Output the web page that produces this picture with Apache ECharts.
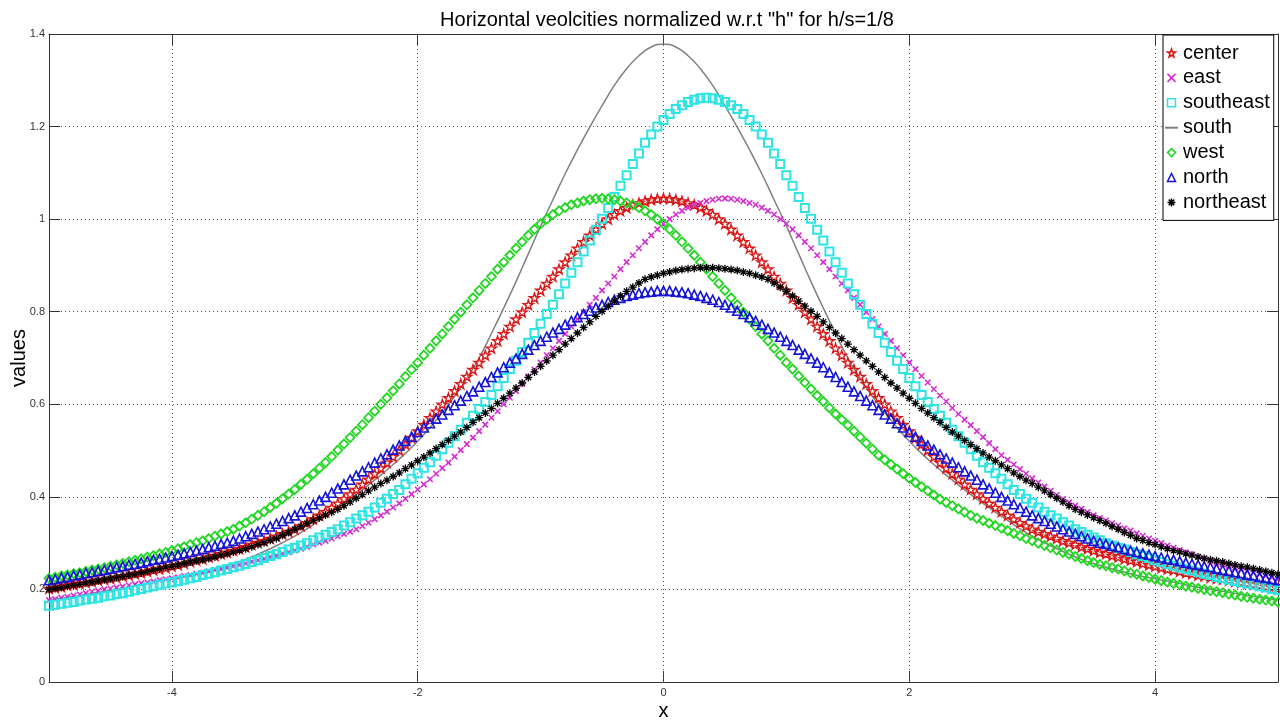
<!DOCTYPE html>
<html><head><meta charset="utf-8">
<script src="https://cdn.jsdelivr.net/npm/echarts@6/dist/echarts.min.js"></script>
<style>html,body{margin:0;padding:0;background:#fff}#c{width:1280px;height:721px}</style>
</head><body><div id="c"></div>
<script>
// ---------- data ----------
const titleText = 'Horizontal veolcities normalized w.r.t "h" for h/s=1/8';
const seriesNames = ['center', 'east', 'southeast', 'south', 'west', 'north', 'northeast'];
const xTickValues = [-4, -2, 0, 2, 4];
const X_MIN = -5;
const markerStep = 0.05;   // sample spacing of marker series (x from -5 to 5)
const lineStep = 0.1;      // sample spacing of the "south" line

const center = [
0.202,0.204,0.206,0.209,0.211,0.213,0.215,0.217,0.220,0.222,
0.224,0.226,0.229,0.231,0.234,0.236,0.239,0.242,0.244,0.247,
0.250,0.253,0.256,0.260,0.263,0.266,0.270,0.273,0.277,0.280,
0.284,0.288,0.292,0.297,0.301,0.305,0.310,0.315,0.320,0.325,
0.330,0.337,0.344,0.352,0.360,0.368,0.377,0.386,0.396,0.406,
0.416,0.427,0.438,0.450,0.462,0.474,0.487,0.501,0.514,0.528,
0.542,0.556,0.571,0.585,0.600,0.614,0.629,0.644,0.660,0.675,
0.690,0.706,0.721,0.737,0.752,0.768,0.784,0.799,0.815,0.830,
0.846,0.861,0.876,0.892,0.907,0.922,0.937,0.951,0.965,0.978,
0.990,1.000,1.010,1.018,1.025,1.031,1.035,1.039,1.042,1.044,
1.045,
1.044,1.042,1.039,1.035,1.031,1.025,1.018,1.010,1.000,0.990,
0.978,0.965,0.951,0.937,0.922,0.907,0.892,0.876,0.861,0.846,
0.830,0.815,0.799,0.784,0.768,0.752,0.737,0.721,0.706,0.690,
0.675,0.660,0.644,0.629,0.614,0.600,0.585,0.571,0.556,0.542,
0.528,0.514,0.501,0.487,0.474,0.462,0.450,0.438,0.427,0.416,
0.406,0.396,0.386,0.377,0.368,0.360,0.352,0.344,0.337,0.330,
0.325,0.320,0.315,0.310,0.305,0.301,0.297,0.292,0.288,0.284,
0.280,0.277,0.273,0.270,0.266,0.263,0.260,0.256,0.253,0.250,
0.247,0.244,0.242,0.239,0.236,0.234,0.231,0.229,0.226,0.224,
0.222,0.220,0.217,0.215,0.213,0.211,0.209,0.206,0.204,0.202];

const east = [
0.177,0.179,0.182,0.184,0.187,0.189,0.192,0.195,0.197,0.200,
0.202,0.204,0.206,0.209,0.211,0.213,0.215,0.217,0.220,0.222,
0.224,0.226,0.229,0.231,0.234,0.236,0.239,0.242,0.244,0.247,
0.250,0.253,0.256,0.260,0.263,0.266,0.270,0.273,0.277,0.280,
0.284,0.288,0.292,0.297,0.301,0.305,0.310,0.315,0.320,0.325,
0.330,0.337,0.344,0.352,0.360,0.368,0.377,0.386,0.396,0.406,
0.416,0.427,0.438,0.450,0.462,0.474,0.487,0.501,0.514,0.528,
0.542,0.556,0.571,0.585,0.600,0.614,0.629,0.644,0.660,0.675,
0.690,0.706,0.721,0.737,0.752,0.768,0.784,0.799,0.815,0.830,
0.846,0.861,0.876,0.892,0.907,0.922,0.937,0.951,0.965,0.978,
0.990,1.000,1.010,1.018,1.025,1.031,1.035,1.039,1.042,1.044,
1.045,
1.044,1.042,1.039,1.035,1.031,1.025,1.018,1.010,1.000,0.990,
0.978,0.965,0.951,0.937,0.922,0.907,0.892,0.876,0.861,0.846,
0.830,0.815,0.799,0.784,0.768,0.752,0.737,0.721,0.706,0.690,
0.676,0.661,0.647,0.633,0.619,0.606,0.592,0.579,0.567,0.555,
0.542,0.529,0.516,0.503,0.490,0.480,0.470,0.460,0.450,0.440,
0.431,0.422,0.413,0.404,0.395,0.388,0.381,0.374,0.367,0.360,
0.354,0.349,0.343,0.338,0.332,0.327,0.321,0.316,0.310,0.305,
0.300,0.295,0.290,0.285,0.280,0.276,0.271,0.267,0.262,0.258,
0.254,0.251,0.247,0.244,0.240,0.236,0.233,0.229,0.226,0.222];

const southeast = [
0.165,0.167,0.169,0.171,0.173,0.176,0.178,
0.180,0.182,0.185,0.187,0.190,0.192,0.195,0.198,0.201,0.204,
0.207,0.210,0.213,0.215,0.218,0.221,0.224,0.227,0.231,0.234,
0.237,0.241,0.244,0.248,0.251,0.255,0.259,0.263,0.268,0.272,
0.276,0.281,0.286,0.290,0.295,0.300,0.306,0.312,0.318,0.324,
0.330,0.338,0.345,0.353,0.360,0.368,0.377,0.387,0.396,0.406,
0.415,0.427,0.439,0.451,0.463,0.475,0.489,0.503,0.517,0.531,
0.545,0.560,0.575,0.590,0.605,0.620,0.639,0.657,0.676,0.694,
0.713,0.733,0.754,0.774,0.795,0.815,0.838,0.861,0.884,0.907,
0.930,0.954,0.977,1.001,1.024,1.048,1.072,1.095,1.119,1.142,
1.165,1.183,1.200,1.214,1.227,1.238,1.246,1.253,1.258,1.261,
1.262,
1.261,1.258,1.253,1.246,1.238,1.227,1.214,1.200,1.183,1.165,
1.142,1.119,1.095,1.072,1.048,1.024,1.001,0.977,0.954,0.930,
0.907,0.884,0.861,0.838,0.815,0.795,0.774,0.754,0.733,0.713,
0.694,0.676,0.657,0.639,0.620,0.605,0.590,0.575,0.560,0.545,
0.531,0.517,0.503,0.489,0.475,0.463,0.451,0.439,0.427,0.415,
0.406,0.396,0.387,0.377,0.368,0.360,0.353,0.345,0.338,0.330,
0.324,0.318,0.312,0.306,0.300,0.295,0.290,0.286,0.281,0.276,
0.272,0.268,0.263,0.259,0.255,0.251,0.248,0.244,0.241,0.237,
0.234,0.231,0.227,0.224,0.221,0.218,0.215,0.213,0.210,0.207,
0.204,0.201,0.198];

const south = [
0.177,0.181,0.185,0.189,0.194,0.198,0.203,0.207,0.213,0.218,
0.223,0.228,0.234,0.241,0.248,0.256,0.265,0.276,0.288,0.301,
0.315,0.331,0.349,0.367,0.386,0.405,0.426,0.447,0.470,0.494,
0.520,0.550,0.582,0.617,0.656,0.700,0.753,0.808,0.865,0.925,
0.985,1.042,1.098,1.150,1.199,1.245,1.289,1.325,1.353,1.372,
1.378,
1.372,1.353,1.325,1.289,1.245,1.199,1.150,1.098,1.042,0.985,
0.925,0.865,0.808,0.753,0.700,0.656,0.617,0.582,0.550,0.520,
0.494,0.470,0.447,0.426,0.405,0.386,0.367,0.349,0.331,0.315,
0.301,0.288,0.276,0.265,0.256,0.248,0.241,0.234,0.228,0.223,
0.218,0.213,0.207,0.203,0.198,0.194,0.189,0.185,0.181,0.177];

const west = [
0.224,0.226,0.229,0.231,0.234,0.236,0.239,0.242,0.244,0.247,
0.250,0.253,0.256,0.260,0.263,0.266,0.270,0.273,0.277,0.280,
0.284,0.288,0.292,0.297,0.301,0.305,0.310,0.315,0.320,0.325,
0.330,0.337,0.344,0.352,0.360,0.368,0.377,0.386,0.396,0.406,
0.416,0.427,0.438,0.450,0.462,0.474,0.487,0.501,0.514,0.528,
0.542,0.556,0.571,0.585,0.600,0.614,0.629,0.644,0.660,0.675,
0.690,0.706,0.721,0.737,0.752,0.768,0.784,0.799,0.815,0.830,
0.846,0.861,0.876,0.892,0.907,0.922,0.937,0.951,0.965,0.978,
0.990,1.000,1.010,1.018,1.025,1.031,1.035,1.039,1.042,1.044,
1.045,
1.044,1.042,1.039,1.035,1.031,1.025,1.018,1.010,1.000,0.990,
0.978,0.965,0.951,0.937,0.922,0.907,0.892,0.876,0.861,0.846,
0.830,0.815,0.799,0.784,0.768,0.752,0.737,0.721,0.706,0.690,
0.676,0.661,0.647,0.633,0.619,0.606,0.592,0.579,0.567,0.555,
0.542,0.529,0.516,0.503,0.490,0.480,0.470,0.460,0.450,0.440,
0.431,0.422,0.413,0.404,0.395,0.388,0.381,0.374,0.367,0.360,
0.354,0.349,0.343,0.338,0.332,0.327,0.321,0.316,0.310,0.305,
0.300,0.295,0.290,0.285,0.280,0.276,0.271,0.267,0.262,0.258,
0.254,0.251,0.247,0.244,0.240,0.236,0.233,0.229,0.226,0.222,
0.219,0.216,0.213,0.210,0.207,0.205,0.202,0.200,0.197,0.195,
0.193,0.190,0.188,0.185,0.183,0.181,0.179,0.177,0.175,0.173];

const north = [
0.220,0.222,0.225,0.227,0.230,0.232,0.235,0.237,0.240,0.242,
0.245,0.248,0.250,0.253,0.255,0.258,0.261,0.264,0.266,0.269,
0.272,0.275,0.278,0.281,0.284,0.287,0.291,0.294,0.298,0.301,
0.305,0.310,0.315,0.320,0.325,0.330,0.336,0.342,0.348,0.354,
0.360,0.368,0.376,0.384,0.392,0.400,0.409,0.418,0.427,0.437,
0.446,0.455,0.464,0.474,0.483,0.492,0.502,0.511,0.521,0.530,
0.540,0.550,0.559,0.569,0.578,0.588,0.598,0.608,0.618,0.628,
0.638,0.648,0.659,0.669,0.680,0.690,0.699,0.709,0.718,0.728,
0.737,0.746,0.755,0.763,0.772,0.780,0.788,0.795,0.802,0.809,
0.815,0.821,0.826,0.830,0.834,0.837,0.840,0.842,0.843,0.845,
0.845,
0.845,0.843,0.842,0.840,0.837,0.834,0.830,0.826,0.821,0.815,
0.809,0.802,0.795,0.788,0.780,0.772,0.763,0.755,0.746,0.737,
0.728,0.718,0.709,0.699,0.690,0.680,0.669,0.659,0.648,0.638,
0.628,0.618,0.608,0.598,0.588,0.578,0.569,0.559,0.550,0.540,
0.530,0.521,0.511,0.502,0.492,0.483,0.474,0.464,0.455,0.446,
0.437,0.427,0.418,0.409,0.400,0.392,0.384,0.376,0.368,0.360,
0.354,0.348,0.342,0.336,0.330,0.325,0.320,0.315,0.310,0.305,
0.301,0.298,0.294,0.291,0.287,0.284,0.281,0.278,0.275,0.272,
0.269,0.266,0.264,0.261,0.258,0.255,0.253,0.250,0.248,0.245,
0.242,0.240,0.237,0.235,0.232,0.230,0.227,0.225,0.222,0.220];

const northeast = [
0.200,0.202,0.204,0.207,0.209,0.211,0.214,
0.216,0.218,0.221,0.223,0.226,0.228,0.231,0.233,0.236,0.239,
0.242,0.245,0.248,0.250,0.253,0.256,0.259,0.262,0.264,0.267,
0.270,0.274,0.277,0.281,0.284,0.288,0.292,0.297,0.301,0.306,
0.310,0.317,0.323,0.330,0.336,0.343,0.349,0.355,0.361,0.367,
0.373,0.381,0.389,0.397,0.405,0.413,0.421,0.429,0.436,0.444,
0.452,0.461,0.469,0.478,0.486,0.495,0.504,0.513,0.522,0.531,
0.540,0.550,0.561,0.571,0.581,0.591,0.602,0.613,0.624,0.635,
0.646,0.658,0.670,0.682,0.694,0.706,0.718,0.730,0.742,0.754,
0.766,0.778,0.790,0.801,0.812,0.823,0.834,0.844,0.853,0.862,
0.870,0.875,0.879,0.883,0.886,0.889,0.891,0.893,0.894,0.895,
0.895,
0.895,0.894,0.893,0.891,0.889,0.886,0.883,0.879,0.875,0.870,
0.862,0.853,0.844,0.834,0.823,0.812,0.801,0.790,0.778,0.766,
0.754,0.742,0.730,0.718,0.706,0.694,0.682,0.670,0.658,0.646,
0.635,0.624,0.613,0.602,0.591,0.581,0.571,0.561,0.550,0.540,
0.531,0.522,0.513,0.504,0.495,0.486,0.478,0.469,0.461,0.452,
0.444,0.436,0.429,0.421,0.413,0.405,0.397,0.389,0.381,0.373,
0.367,0.361,0.355,0.349,0.343,0.336,0.330,0.323,0.317,0.310,
0.306,0.301,0.297,0.292,0.288,0.284,0.281,0.277,0.274,0.270,
0.267,0.264,0.262,0.259,0.256,0.253,0.250,0.248,0.245,0.242,
0.239,0.236,0.233];

// ---------- rendering ----------
function toPairs(vals, step) {
  return vals.map((v, i) => [+(X_MIN + i * step).toFixed(3), v]);
}
const FONT = 'Liberation Sans, Arial, Helvetica, sans-serif';
const STAR = 'path://M50,2 L61.2,36 L97,36 L68,57 L79,91 L50,70 L21,91 L32,57 L3,36 L38.8,36 Z';
const XMARK = 'path://M0,0 L10,10 M10,0 L0,10';
const ASTER = 'path://M0,5 L10,5 M5,0 L5,10 M1.5,1.5 L8.5,8.5 M8.5,1.5 L1.5,8.5';
const clear = 'rgba(0,0,0,0)';

function markerSeries(name, vals, symbol, size, color, bw) {
  return {
    name, type: 'line', data: toPairs(vals, markerStep),
    symbol, symbolSize: size, symbolKeepAspect: true, showSymbol: true,
    lineStyle: { width: 0, opacity: 0 },
    itemStyle: { color: clear, borderColor: color, borderWidth: bw },
    emphasis: { disabled: true }, animation: false, z: 3
  };
}

const chart = echarts.init(document.getElementById('c'), null, { renderer: 'canvas' });
const axisCol = '#333';
chart.setOption({
  backgroundColor: '#fff',
  animation: false,
  title: {
    text: titleText, left: 662, top: 5, textAlign: 'center',
    textStyle: { fontFamily: FONT, fontSize: 20, fontWeight: 'normal', color: '#000' }
  },
  legend: {
    orient: 'vertical', left: 1163, top: 35,
    padding: [8, 4, 8, 1],
    itemWidth: 13, itemHeight: 10, itemGap: 4.9,
    borderColor: '#000', borderWidth: 1, backgroundColor: '#fff',
    itemStyle: { borderWidth: 1.5 },
    textStyle: { fontFamily: FONT, fontSize: 20, lineHeight: 20, color: '#000' },
    data: seriesNames.map(n => n === 'south' ? { name: n, itemStyle: { opacity: 0 } } : n),
    selectedMode: false
  },
  grid: { left: 49, right: 2, top: 34, bottom: 39, containLabel: false, outerBoundsMode: 'none' },
  xAxis: [{
    type: 'value', min: -5, max: 5, position: 'bottom',
    name: 'x', nameLocation: 'middle', nameGap: 19, nameMoveOverlap: false,
    nameTextStyle: { fontFamily: FONT, fontSize: 20, color: '#000' },
    axisLine: { show: true, onZero: false, lineStyle: { color: axisCol, width: 1 } },
    axisTick: { show: true, inside: true, length: 11, customValues: xTickValues, lineStyle: { color: axisCol } },
    axisLabel: { customValues: xTickValues, margin: 5, fontFamily: FONT, fontSize: 11, color: '#333' },
    splitLine: { show: false }
  }, {
    type: 'value', min: -5, max: 5, position: 'top',
    axisLine: { show: true, onZero: false, lineStyle: { color: axisCol, width: 1 } },
    axisTick: { show: true, inside: true, length: 11, customValues: xTickValues, lineStyle: { color: axisCol } },
    axisLabel: { show: false }, splitLine: { show: false }
  }],
  yAxis: [{
    type: 'value', min: 0, max: 1.4, interval: 0.2, position: 'left',
    name: 'values', nameLocation: 'middle', nameGap: 20, nameMoveOverlap: false,
    nameTextStyle: { fontFamily: FONT, fontSize: 20, color: '#000' },
    axisLine: { show: true, onZero: false, lineStyle: { color: axisCol, width: 1 } },
    axisTick: { show: true, inside: true, length: 11, lineStyle: { color: axisCol } },
    axisLabel: { margin: 4, fontFamily: FONT, fontSize: 11, color: '#333' },
    splitLine: { show: true, lineStyle: { type: [1, 3], color: '#555', width: 1 } }
  }, {
    type: 'value', min: 0, max: 1.4, interval: 0.2, position: 'right',
    axisLine: { show: true, onZero: false, lineStyle: { color: axisCol, width: 1 } },
    axisTick: { show: true, inside: true, length: 11, lineStyle: { color: axisCol } },
    axisLabel: { show: false }, splitLine: { show: false }
  }],
  series: [
    markerSeries('center', center, STAR, 10, '#d81818', 1.4),
    markerSeries('east', east, XMARK, 5.5, '#d22cd2', 1.6),
    markerSeries('southeast', southeast, 'rect', 8, '#2ee3e3', 2),
    {
      name: 'south', type: 'line', data: toPairs(south, lineStep),
      symbol: 'none', showSymbol: false, smooth: true,
      lineStyle: { color: '#808080', width: 1.5 },
      itemStyle: { color: '#808080' },
      emphasis: { disabled: true }, animation: false, z: 3,
      markLine: {
        silent: true, symbol: ['none', 'none'], z: 1, animation: false,
        label: { show: false }, emphasis: { disabled: true },
        lineStyle: { type: [1, 3], color: '#555', width: 1 },
        data: xTickValues.map(v => ({ xAxis: v }))
      }
    },
    markerSeries('west', west, 'diamond', 9, '#22d622', 1.8),
    markerSeries('north', north, 'triangle', 9, '#1414d2', 1.6),
    markerSeries('northeast', northeast, ASTER, 8, '#000000', 1.3)
  ]
});
</script></body></html>
